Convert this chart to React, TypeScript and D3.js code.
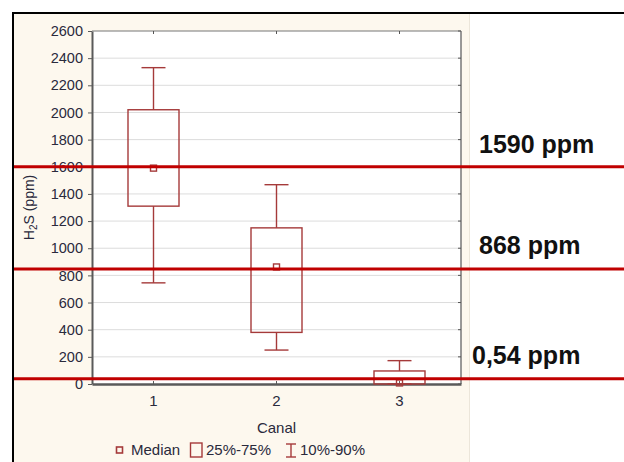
import React, { useRef, useEffect } from 'react';
import * as d3 from 'd3';

// data
const categories = ['1', '2', '3'];
const whiskerLow = [745, 250, 0];
const boxLow = [1310, 380, 0];
const medians = [1590, 862, 8];
const boxHigh = [2020, 1150, 96];
const whiskerHigh = [2330, 1468, 172];

const yTicks = [0, 200, 400, 600, 800, 1000, 1200, 1400, 1600, 1800, 2000, 2200, 2400, 2600];

// reference lines drawn over the chart
const refValues = [1600, 847, 38];
const refLabels = ['1590 ppm', '868 ppm', '0,54 ppm'];

const legendLabels = ['Median', '25%-75%', '10%-90%'];

const App = () => {
  const svgRef = useRef<SVGSVGElement>(null);

  useEffect(() => {
    const width = 624;
    const height = 462;
    const plot = { left: 92, right: 461, top: 31, bottom: 384 };
    const boxColor = '#a53a3a';
    const lineColor = '#c00000';
    const textColor = '#2a2a3c';
    const font = 'Arial, "Liberation Sans", sans-serif';

    const svg = d3.select(svgRef.current);
    svg.selectAll('*').remove();
    svg.attr('width', width).attr('height', height);

    //page + cream panel + black frame
    svg.append('rect').attr('width', width).attr('height', height).attr('fill', '#fff');
    svg.append('rect').attr('x', 14).attr('y', 14).attr('width', 455).attr('height', height - 14).attr('fill', '#fdf8ee');
    svg.append('line').attr('x1', 469.5).attr('x2', 469.5).attr('y1', 14).attr('y2', height).attr('stroke', '#ece6da');
    svg.append('line').attr('x1', 12).attr('x2', width).attr('y1', 13).attr('y2', 13).attr('stroke', '#000').attr('stroke-width', 2);
    svg.append('line').attr('x1', 13).attr('x2', 13).attr('y1', 12).attr('y2', height).attr('stroke', '#000').attr('stroke-width', 2);

    //scales
    const x = d3.scaleBand()
      .domain(categories)
      .range([plot.left, plot.right]);
    const cx = (c: string) => (x(c) as number) + x.bandwidth() / 2;

    const y = d3.scaleLinear()
      .domain([0, 2600])
      .range([plot.bottom, plot.top]);

    //plot area
    svg.append('rect')
      .attr('x', plot.left).attr('y', plot.top)
      .attr('width', plot.right - plot.left).attr('height', plot.bottom - plot.top)
      .attr('fill', '#fff');

    //gridlines
    svg.append('g')
      .selectAll('line')
      .data(yTicks.slice(1, -1))
      .join('line')
      .attr('x1', plot.left).attr('x2', plot.right)
      .attr('y1', d => y(d)).attr('y2', d => y(d))
      .attr('stroke', '#dcdcdc')
      .attr('stroke-width', 1);

    //frame of the plot
    svg.append('line').attr('x1', plot.left).attr('x2', plot.right).attr('y1', plot.top).attr('y2', plot.top)
      .attr('stroke', '#777').attr('stroke-width', 1.2);
    svg.append('line').attr('x1', plot.right).attr('x2', plot.right).attr('y1', plot.top).attr('y2', plot.bottom)
      .attr('stroke', '#777').attr('stroke-width', 1.5);

    //right axis ticks (inward)
    svg.append('g')
      .selectAll('line')
      .data(yTicks)
      .join('line')
      .attr('x1', plot.right - 3).attr('x2', plot.right)
      .attr('y1', d => y(d)).attr('y2', d => y(d))
      .attr('stroke', '#555');

    //top ticks (inward)
    svg.append('g')
      .selectAll('line')
      .data(categories)
      .join('line')
      .attr('x1', d => cx(d)).attr('x2', d => cx(d))
      .attr('y1', plot.top).attr('y2', plot.top + 3)
      .attr('stroke', '#555');

    //left axis
    const yAxis = svg.append('g')
      .attr('transform', `translate(${plot.left},0)`)
      .call(d3.axisLeft(y).tickValues(yTicks).tickFormat(d3.format('d')).tickSize(4).tickSizeOuter(0).tickPadding(5));
    yAxis.select('.domain').attr('stroke', '#5a5a5a').attr('stroke-width', 2);
    yAxis.selectAll('.tick line').attr('stroke', '#5a5a5a');
    yAxis.selectAll('text')
      .style('font-family', font)
      .style('font-size', '14.5px')
      .style('fill', textColor);

    //bottom axis
    const xAxis = svg.append('g')
      .attr('transform', `translate(0,${plot.bottom})`)
      .call(d3.axisBottom(x).tickSize(-3).tickSizeOuter(0).tickPadding(11));
    xAxis.select('.domain').attr('stroke', '#5a5a5a').attr('stroke-width', 2.5);
    xAxis.selectAll('.tick line').attr('stroke', '#5a5a5a');
    xAxis.selectAll('text')
      .style('font-family', font)
      .style('font-size', '15px')
      .style('fill', textColor);

    //boxes
    const halfBox = 25.5;
    const halfCap = 12;
    const g = svg.append('g').attr('fill', 'none').attr('stroke', boxColor).attr('stroke-width', 1.4);
    categories.forEach((c, i) => {
      const xc = cx(c);
      g.append('line').attr('x1', xc).attr('x2', xc).attr('y1', y(boxHigh[i])).attr('y2', y(whiskerHigh[i]));
      g.append('line').attr('x1', xc).attr('x2', xc).attr('y1', y(boxLow[i])).attr('y2', y(whiskerLow[i]));
      g.append('line').attr('x1', xc - halfCap).attr('x2', xc + halfCap).attr('y1', y(whiskerHigh[i])).attr('y2', y(whiskerHigh[i]));
      g.append('line').attr('x1', xc - halfCap).attr('x2', xc + halfCap).attr('y1', y(whiskerLow[i])).attr('y2', y(whiskerLow[i]));
      g.append('rect')
        .attr('x', xc - halfBox).attr('y', y(boxHigh[i]))
        .attr('width', halfBox * 2).attr('height', y(boxLow[i]) - y(boxHigh[i]));
      g.append('rect')
        .attr('x', xc - 3).attr('y', y(medians[i]) - 3)
        .attr('width', 6).attr('height', 6);
    });

    //axis titles
    svg.append('text')
      .attr('x', cx('2'))
      .attr('y', 433)
      .attr('text-anchor', 'middle')
      .style('font-family', font)
      .style('font-size', '15px')
      .style('fill', textColor)
      .text('Canal');

    const yLabel = svg.append('text')
      .attr('transform', `translate(34,${(plot.top + plot.bottom) / 2}) rotate(-90)`)
      .attr('text-anchor', 'middle')
      .style('font-family', font)
      .style('font-size', '14px')
      .style('fill', textColor);
    yLabel.append('tspan').text('H');
    yLabel.append('tspan').attr('dy', 3).style('font-size', '10px').text('2');
    yLabel.append('tspan').attr('dy', -3).text('S (ppm)');

    //legend
    const ly = 450;
    const leg = svg.append('g').style('font-family', font).style('font-size', '15px');
    leg.append('rect').attr('x', 116.5).attr('y', ly - 3).attr('width', 6).attr('height', 6)
      .attr('fill', 'none').attr('stroke', boxColor).attr('stroke-width', 1.6);
    leg.append('text').attr('x', 131).attr('y', ly + 5).style('fill', textColor).text(legendLabels[0]);
    leg.append('rect').attr('x', 190.5).attr('y', ly - 7).attr('width', 11.5).attr('height', 14)
      .attr('fill', 'none').attr('stroke', boxColor).attr('stroke-width', 1.4);
    leg.append('text').attr('x', 206).attr('y', ly + 5).style('fill', textColor).text(legendLabels[1]);
    const iconX = 291;
    const icon = leg.append('g').attr('stroke', boxColor).attr('stroke-width', 1.4);
    icon.append('line').attr('x1', iconX).attr('x2', iconX).attr('y1', ly - 6).attr('y2', ly + 7);
    icon.append('line').attr('x1', iconX - 5).attr('x2', iconX + 5).attr('y1', ly - 6).attr('y2', ly - 6);
    icon.append('line').attr('x1', iconX - 5).attr('x2', iconX + 5).attr('y1', ly + 7).attr('y2', ly + 7);
    leg.append('text').attr('x', 300).attr('y', ly + 5).style('fill', textColor).text(legendLabels[2]);

    //reference lines
    svg.append('g')
      .selectAll('line')
      .data(refValues)
      .join('line')
      .attr('x1', 14).attr('x2', width)
      .attr('y1', d => y(d)).attr('y2', d => y(d))
      .attr('stroke', lineColor)
      .attr('stroke-width', 3);

    const labelX = [479, 479, 472];
    const labelDy = [-14, -15, -15];
    svg.append('g')
      .selectAll('text')
      .data(refValues)
      .join('text')
      .attr('x', (d, i) => labelX[i])
      .attr('y', (d, i) => y(d) + labelDy[i])
      .style('font-family', font)
      .style('font-size', '25px')
      .style('font-weight', 'bold')
      .style('fill', '#111')
      .text((d, i) => refLabels[i]);
  }, []);

  return <svg ref={svgRef} style={{ position: 'absolute', left: 0, top: 0 }}></svg>;
};

export default App;
